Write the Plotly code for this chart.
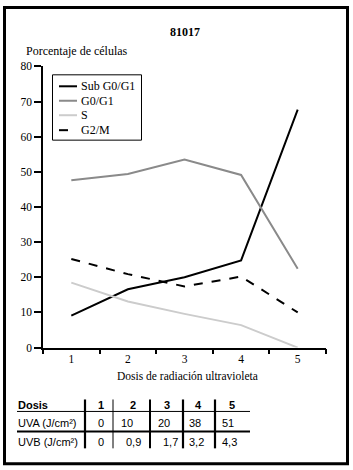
import plotly.graph_objects as go

W, H = 353, 470

dosis = [1, 2, 3, 4, 5]
sub_g0g1 = [9.1, 16.6, 20.0, 24.8, 67.7]
g0g1 = [47.6, 49.4, 53.5, 49.1, 22.4]
s_phase = [18.5, 13.1, 9.6, 6.4, 0.0]
g2m = [25.2, 20.9, 17.4, 20.2, 10.0]

series_names = ["Sub G0/G1", "G0/G1", "S", "G2/M"]
y_ticks = [0, 10, 20, 30, 40, 50, 60, 70, 80]

table_header = ["Dosis", "1", "2", "3", "4", "5"]
table_uva = ["UVA (J/cm²)", "0", "10", "20", "38", "51"]
table_uvb = ["UVB (J/cm²)", "0", "0,9", "1,7", "3,2", "4,3"]

SERIF = "Liberation Serif"
SANS = "Liberation Sans"

# vertical calibration of the photographed page
Y_OFF, Y_SCALE = 5.5, 0.977


def px(x):
    return x / W


def py(y):
    ys = (y - Y_OFF) / Y_SCALE
    return 1 - ys / H


styles = [("#000000", "solid"), ("#8a8a8a", "solid"), ("#cccccc", "solid"),
          ("#000000", "dash")]
values = [sub_g0g1, g0g1, s_phase, g2m]

fig = go.Figure()
for name, vals, (col, dash) in zip(series_names, values, styles):
    fig.add_trace(go.Scatter(x=dosis, y=vals, name=name, mode="lines",
                             showlegend=False,
                             line=dict(color=col, width=2, dash=dash)))

fig.update_layout(
    width=W, height=H,
    margin=dict(l=0, r=0, t=0, b=0),
    paper_bgcolor="white", plot_bgcolor="white",
    font=dict(family=SERIF, size=11, color="black"),
    showlegend=False,
    xaxis=dict(domain=[px(43), px(326)], range=[0.5, 5.5],
               tickvals=dosis, ticks="", showgrid=False, zeroline=False,
               showline=True, linecolor="black", linewidth=1.5,
               tickfont=dict(family=SERIF, size=11.5),
               minor=dict(tick0=0.5, dtick=1, ticks="outside", ticklen=5,
                          tickcolor="black", tickwidth=1.5, showgrid=False)),
    yaxis=dict(domain=[py(348), py(66)], range=[0, 80], tickvals=y_ticks,
               ticks="outside", ticklen=7, tickcolor="black", tickwidth=1.5,
               showgrid=False, zeroline=False, showline=True,
               linecolor="black", linewidth=1.5,
               tickfont=dict(family=SERIF, size=11.5)),
)


def ann(text, x, y, size, family=SERIF, xanchor="center"):
    fig.add_annotation(text=text, x=px(x), y=py(y), xref="paper",
                       yref="paper", showarrow=False, xanchor=xanchor,
                       yanchor="middle", borderpad=0,
                       font=dict(family=family, size=size))


def hline(x0, x1, y, w, col="black"):
    fig.add_shape(type="line", xref="paper", yref="paper", x0=px(x0),
                  x1=px(x1), y0=py(y), y1=py(y),
                  line=dict(color=col, width=w))


def vline(x, y0, y1, w):
    fig.add_shape(type="line", xref="paper", yref="paper", x0=px(x),
                  x1=px(x), y0=py(y0), y1=py(y1),
                  line=dict(color="black", width=w))


# outer border
fig.add_shape(type="rect", xref="paper", yref="paper",
              x0=px(4.5), x1=px(347.5), y0=py(464.5), y1=min(py(5.5), 1 - 1.5 / H),
              line=dict(color="black", width=3))

# title and axis labels
ann("<b>81017</b>", 185, 32, 12)
ann("Porcentaje de células", 25, 51, 12, xanchor="left")
ann("Dosis de radiación ultravioleta", 187, 376, 11.5)

# legend (drawn manually for compact row spacing)
fig.add_shape(type="rect", xref="paper", yref="paper",
              x0=px(52.5), x1=px(141.5), y0=py(140), y1=py(74.5),
              line=dict(color="black", width=1), fillcolor="white")
leg_y = [86, 100.5, 115, 130]
for (col, dash), name, ly in zip(styles, series_names, leg_y):
    fig.add_shape(type="line", xref="paper", yref="paper", x0=px(59),
                  x1=px(77), y0=py(ly), y1=py(ly),
                  line=dict(color=col, width=2, dash=dash))
    ann(name, 80, ly, 12, xanchor="left")

# table
row_y = [405.5, 424, 443]
label_x = 17
header_x = [101, 133, 167, 199, 232]
uva_x = [101, 120, 157, 188, 221]
uvb_x = [101, 133, 170, 196, 230]
ann(f"<b>{table_header[0]}</b>", label_x, row_y[0], 11, SANS, "left")
ann(table_uva[0], label_x, row_y[1], 11, SANS, "left")
ann(table_uvb[0], label_x, row_y[2], 11, SANS, "left")
for i in range(5):
    ann(f"<b>{table_header[i + 1]}</b>", header_x[i], row_y[0], 11, SANS)
    ann(table_uva[i + 1], uva_x[i], row_y[1], 11, SANS,
        "center" if i == 0 else "left")
    ann(table_uvb[i + 1], uvb_x[i], row_y[2], 11, SANS)

hline(17, 250, 412, 1)
hline(17, 250, 432, 2)
for vx, w in [(85, 2.2), (113, 1), (150, 2), (183, 2.2), (215, 2.2)]:
    vline(vx, 400, 449, w)

fig.write_html("out.html",
               config={"displayModeBar": False},
               post_script="document.body.style.margin='0';"
                           "document.body.style.overflow='hidden';")
